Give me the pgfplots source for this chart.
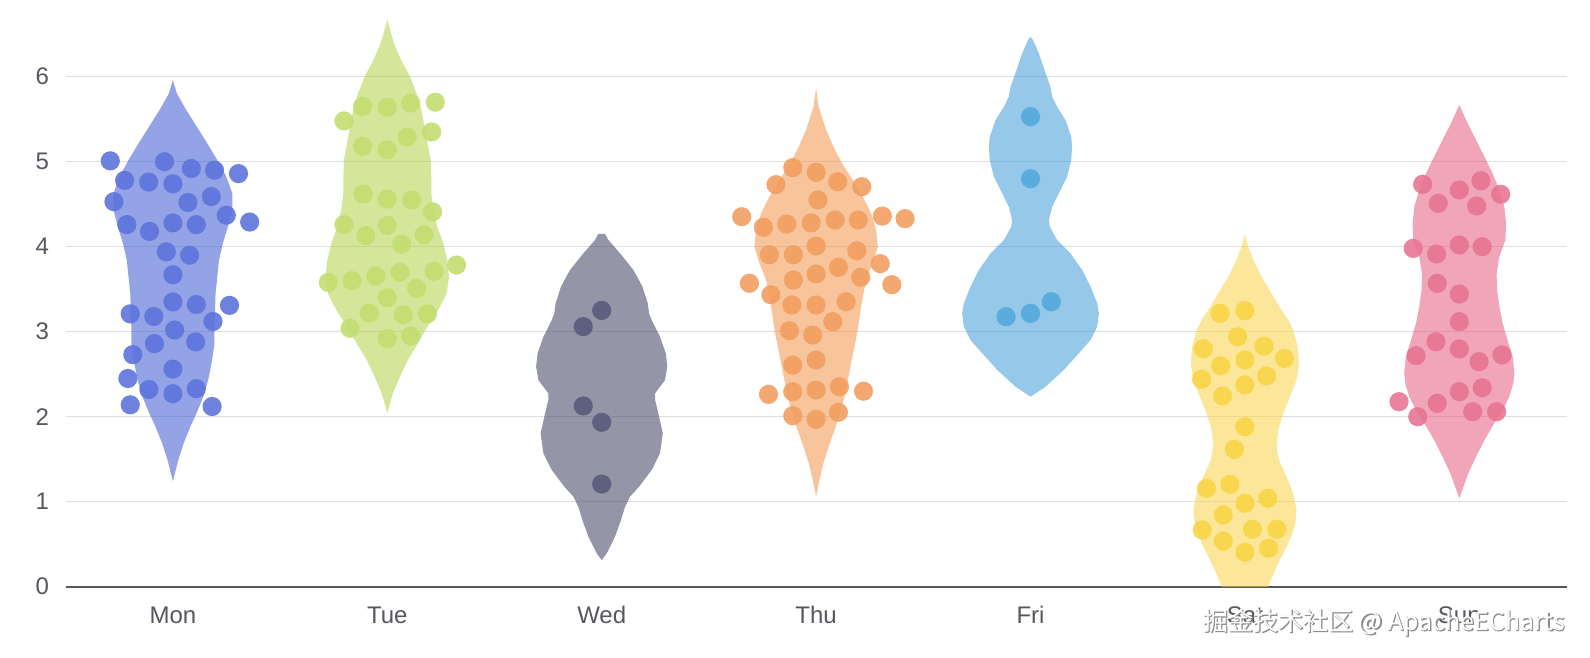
\documentclass[border=0pt]{standalone}
\usepackage{fontspec}
\setmainfont{Liberation Sans}
\newfontfamily\cjk{Noto Sans CJK SC}
\newfontfamily\cjkbold[FakeBold=2.5]{Noto Sans CJK SC}
\usepackage{pgfplots}
\pgfplotsset{compat=1.18}
\definecolor{vmon}{HTML}{3B58D2}
\definecolor{vtue}{HTML}{B3D247}
\definecolor{vwed}{HTML}{3D4061}
\definecolor{vthu}{HTML}{F1944B}
\definecolor{vfri}{HTML}{409BD9}
\definecolor{vsat}{HTML}{F8D247}
\definecolor{vsun}{HTML}{E45B7E}
\definecolor{pmon}{HTML}{5D74DC}
\definecolor{ptue}{HTML}{C2DE70}
\definecolor{pwed}{HTML}{595B7C}
\definecolor{pthu}{HTML}{F19F60}
\definecolor{pfri}{HTML}{53A9DA}
\definecolor{psat}{HTML}{F8D648}
\definecolor{psun}{HTML}{E87592}
\definecolor{gridgray}{HTML}{DEDEE2}
\definecolor{axisgray}{HTML}{55575E}
\definecolor{labelgray}{HTML}{55575E}
\pgfplotsset{
  violin/.style={draw=none, fill=#1, fill opacity=0.55},
  dots/.style={only marks, mark=*, mark size=4.8bp, color=#1, mark options={draw opacity=0, fill=#1, fill opacity=0.9}},
}
\begin{document}
\begin{tikzpicture}
\begin{axis}[
  scale only axis, width=750.4bp, height=293.25bp,
  xmin=-0.5, xmax=6.5, ymin=0, ymax=6.9,
  axis x line=bottom, axis y line=left,
  x axis line style={draw=axisgray, line width=1.1bp, -},
  y axis line style={draw=none},
  major tick length=0pt,
  xtick={0,1,2,3,4,5,6},
  xticklabels={Mon,Tue,Wed,Thu,Fri,Sat,Sun},
  ytick={0,1,2,3,4,5,6},
  ymajorgrids, grid style={draw=gridgray, line width=0.6bp},
  tick label style={font=\fontsize{12bp}{14bp}\selectfont, text=labelgray},
  xticklabel style={anchor=base, inner sep=0pt, yshift=-18.3bp},
  yticklabel style={anchor=east, inner sep=0pt, xshift=-8.2bp},
  /pgf/number format/assume math mode=true,
]
% violins
\addplot[violin=vmon] coordinates {(0,5.96) (0.019,5.80) (0.062,5.61) (0.112,5.41) (0.160,5.216) (0.207,5.02) (0.249,4.824) (0.277,4.628) (0.277,4.43) (0.257,4.236) (0.233,4.04) (0.215,3.84) (0.199,3.45) (0.194,3.06) (0.194,2.86) (0.183,2.67) (0.168,2.47) (0.148,2.275) (0.117,2.08) (0.081,1.88) (0.050,1.686) (0.025,1.49) (0,1.24) (-0.025,1.49) (-0.050,1.686) (-0.081,1.88) (-0.117,2.08) (-0.148,2.275) (-0.168,2.47) (-0.183,2.67) (-0.194,2.86) (-0.194,3.06) (-0.199,3.45) (-0.215,3.84) (-0.233,4.04) (-0.257,4.236) (-0.277,4.43) (-0.277,4.628) (-0.249,4.824) (-0.207,5.02) (-0.160,5.216) (-0.112,5.41) (-0.062,5.61) (-0.019,5.80)} -- cycle;
\addplot[violin=vtue] coordinates {(1,6.67) (1.031,6.39) (1.065,6.196) (1.106,6.0) (1.137,5.80) (1.159,5.61) (1.174,5.41) (1.188,5.216) (1.202,5.02) (1.205,4.824) (1.205,4.63) (1.215,4.43) (1.233,4.235) (1.261,4.04) (1.280,3.84) (1.288,3.647) (1.277,3.45) (1.238,3.255) (1.187,3.06) (1.143,2.863) (1.096,2.667) (1.059,2.47) (1.026,2.275) (1,2.04) (0.974,2.275) (0.941,2.47) (0.904,2.667) (0.857,2.863) (0.813,3.06) (0.762,3.255) (0.723,3.45) (0.712,3.647) (0.720,3.84) (0.739,4.04) (0.767,4.235) (0.785,4.43) (0.795,4.63) (0.795,4.824) (0.798,5.02) (0.812,5.216) (0.826,5.41) (0.841,5.61) (0.863,5.80) (0.894,6.0) (0.935,6.196) (0.969,6.39)} -- cycle;
\addplot[violin=vwed] coordinates {(2.016,4.15) (2.031,4.08) (2.086,3.92) (2.148,3.726) (2.190,3.53) (2.215,3.333) (2.221,3.216) (2.233,3.137) (2.272,2.94) (2.299,2.745) (2.306,2.59) (2.295,2.43) (2.249,2.275) (2.249,2.196) (2.264,2.04) (2.285,1.804) (2.272,1.569) (2.233,1.373) (2.174,1.176) (2.132,1.059) (2.109,0.94) (2.090,0.784) (2.062,0.588) (2.023,0.39) (2,0.314) (1.977,0.39) (1.938,0.588) (1.910,0.784) (1.891,0.94) (1.868,1.059) (1.826,1.176) (1.767,1.373) (1.728,1.569) (1.715,1.804) (1.736,2.04) (1.751,2.196) (1.751,2.275) (1.705,2.43) (1.694,2.59) (1.701,2.745) (1.728,2.94) (1.767,3.137) (1.779,3.216) (1.785,3.333) (1.810,3.53) (1.852,3.726) (1.914,3.92) (1.969,4.08) (1.984,4.15)} -- cycle;
\addplot[violin=vthu] coordinates {(3,5.863) (3.012,5.647) (3.047,5.373) (3.081,5.177) (3.121,4.98) (3.171,4.785) (3.218,4.588) (3.257,4.392) (3.280,4.196) (3.288,4.0) (3.264,3.804) (3.233,3.608) (3.218,3.412) (3.205,3.216) (3.194,3.02) (3.179,2.824) (3.163,2.627) (3.148,2.43) (3.132,2.235) (3.112,2.04) (3.086,1.843) (3.059,1.647) (3.034,1.451) (3.016,1.255) (3,1.06) (2.984,1.255) (2.966,1.451) (2.941,1.647) (2.914,1.843) (2.888,2.04) (2.868,2.235) (2.852,2.43) (2.837,2.627) (2.821,2.824) (2.806,3.02) (2.795,3.216) (2.782,3.412) (2.767,3.608) (2.736,3.804) (2.712,4.0) (2.720,4.196) (2.743,4.392) (2.782,4.588) (2.829,4.785) (2.879,4.98) (2.919,5.177) (2.953,5.373) (2.988,5.647)} -- cycle;
\addplot[violin=vfri] coordinates {(4,6.47) (4.012,6.43) (4.039,6.275) (4.065,6.08) (4.093,5.88) (4.101,5.765) (4.124,5.647) (4.163,5.49) (4.190,5.294) (4.194,5.176) (4.190,5.02) (4.171,4.824) (4.132,4.627) (4.101,4.47) (4.086,4.314) (4.090,4.235) (4.124,4.078) (4.187,3.92) (4.241,3.725) (4.280,3.53) (4.311,3.333) (4.319,3.216) (4.311,3.06) (4.280,2.902) (4.225,2.745) (4.155,2.55) (4.070,2.353) (4,2.235) (3.930,2.353) (3.845,2.55) (3.775,2.745) (3.720,2.902) (3.689,3.06) (3.681,3.216) (3.689,3.333) (3.720,3.53) (3.759,3.725) (3.813,3.92) (3.876,4.078) (3.910,4.235) (3.914,4.314) (3.899,4.47) (3.868,4.627) (3.829,4.824) (3.810,5.02) (3.806,5.176) (3.810,5.294) (3.837,5.49) (3.876,5.647) (3.899,5.765) (3.907,5.88) (3.935,6.08) (3.961,6.275) (3.988,6.43)} -- cycle;
\addplot[violin=vsat] coordinates {(5,4.149) (5.016,4.0) (5.039,3.843) (5.078,3.647) (5.124,3.451) (5.171,3.255) (5.202,3.137) (5.225,3.02) (5.246,2.824) (5.252,2.627) (5.241,2.43) (5.210,2.235) (5.179,2.04) (5.155,1.843) (5.148,1.647) (5.159,1.49) (5.194,1.294) (5.225,1.098) (5.241,0.902) (5.233,0.706) (5.202,0.51) (5.163,0.314) (5.127,0.118) (5.109,0) (5.07,-0.15) (5.035,-0.3) (5,-0.45) (4.965,-0.3) (4.93,-0.15) (4.891,0) (4.873,0.118) (4.837,0.314) (4.798,0.51) (4.767,0.706) (4.759,0.902) (4.775,1.098) (4.806,1.294) (4.841,1.49) (4.852,1.647) (4.845,1.843) (4.821,2.04) (4.790,2.235) (4.759,2.43) (4.748,2.627) (4.754,2.824) (4.775,3.02) (4.798,3.137) (4.829,3.255) (4.876,3.451) (4.922,3.647) (4.961,3.843) (4.984,4.0)} -- cycle;
\addplot[violin=vsun] coordinates {(6,5.667) (6.039,5.451) (6.078,5.255) (6.117,5.06) (6.155,4.863) (6.187,4.667) (6.210,4.47) (6.218,4.275) (6.215,4.08) (6.187,3.882) (6.174,3.686) (6.176,3.49) (6.187,3.294) (6.202,3.098) (6.225,2.902) (6.249,2.706) (6.257,2.51) (6.252,2.392) (6.233,2.235) (6.202,2.078) (6.163,1.922) (6.117,1.725) (6.078,1.529) (6.042,1.333) (6,1.04) (5.958,1.333) (5.922,1.529) (5.883,1.725) (5.837,1.922) (5.798,2.078) (5.767,2.235) (5.748,2.392) (5.743,2.51) (5.751,2.706) (5.775,2.902) (5.798,3.098) (5.813,3.294) (5.824,3.49) (5.826,3.686) (5.813,3.882) (5.785,4.08) (5.782,4.275) (5.790,4.47) (5.813,4.667) (5.845,4.863) (5.883,5.06) (5.922,5.255) (5.961,5.451)} -- cycle;
% points
\addplot[dots=pmon] coordinates {(-0.292,5.01) (-0.039,5.00) (0.086,4.92) (0.194,4.90) (0.306,4.86) (-0.225,4.78) (-0.113,4.76) (0,4.74) (-0.275,4.53) (0.070,4.52) (0.179,4.59) (0.249,4.37) (0.358,4.29) (-0.215,4.26) (-0.109,4.18) (0,4.28) (0.109,4.26) (-0.031,3.94) (0.078,3.90) (0,3.67) (0,3.35) (0.109,3.32) (0.264,3.31) (-0.199,3.21) (-0.089,3.18) (0.187,3.12) (0.008,3.02) (-0.086,2.86) (0.106,2.88) (-0.187,2.73) (0,2.56) (-0.210,2.45) (-0.112,2.32) (0,2.27) (0.109,2.33) (-0.199,2.14) (0.183,2.12)};
\addplot[dots=ptue] coordinates {(0.885,5.65) (1,5.64) (1.109,5.69) (1.224,5.70) (0.798,5.48) (0.885,5.18) (1,5.14) (1.093,5.29) (1.207,5.35) (0.888,4.62) (1,4.56) (1.113,4.55) (1.211,4.41) (0.798,4.26) (0.900,4.13) (1,4.25) (1.067,4.03) (1.171,4.14) (0.725,3.58) (0.835,3.60) (0.946,3.655) (1.059,3.70) (1.218,3.71) (1.323,3.785) (1.137,3.51) (1,3.40) (0.916,3.22) (1.075,3.20) (1.187,3.21) (0.826,3.04) (1,2.92) (1.109,2.95)};
\addplot[dots=pwed] coordinates {(2,3.25) (1.914,3.06) (1.914,2.126) (2,1.934) (2,1.208)};
\addplot[dots=pthu] coordinates {(2.891,4.93) (3,4.875) (3.101,4.765) (3.213,4.706) (2.813,4.73) (3.008,4.55) (2.653,4.353) (2.754,4.228) (2.863,4.267) (2.977,4.28) (3.089,4.314) (3.197,4.314) (3.309,4.36) (3.415,4.33) (2.782,3.906) (2.894,3.906) (3,4.008) (3.190,3.953) (3.299,3.80) (3.104,3.757) (3,3.679) (2.894,3.608) (3.208,3.64) (2.689,3.57) (3.353,3.553) (2.789,3.435) (2.887,3.314) (3,3.314) (3.140,3.353) (3.078,3.118) (2.876,3.012) (2.984,2.961) (2.891,2.608) (3,2.667) (2.778,2.263) (2.891,2.294) (3,2.314) (3.109,2.353) (3.221,2.30) (2.891,2.012) (3,1.969) (3.104,2.052)};
\addplot[dots=pfri] coordinates {(4,5.53) (4,4.80) (3.886,3.176) (4,3.216) (4.097,3.353)};
\addplot[dots=psat] coordinates {(4.884,3.216) (5,3.247) (4.966,2.94) (4.806,2.80) (5.089,2.83) (5.184,2.686) (4.887,2.60) (5,2.667) (4.798,2.44) (5.101,2.48) (5,2.373) (4.896,2.244) (5,1.882) (4.951,1.616) (4.821,1.157) (4.930,1.204) (5,0.981) (5.107,1.04) (4.899,0.843) (4.801,0.667) (5.035,0.675) (5.149,0.675) (4.899,0.538) (5,0.405) (5.110,0.452)};
\addplot[dots=psun] coordinates {(5.829,4.734) (6,4.667) (6.101,4.776) (6.193,4.616) (5.902,4.51) (6.081,4.479) (5.785,3.98) (5.894,3.914) (6,4.02) (6.107,4.0) (5.897,3.569) (6,3.443) (6,3.118) (5.891,2.882) (5.798,2.718) (6,2.797) (6.092,2.647) (6.199,2.726) (6,2.294) (6.107,2.341) (5.897,2.158) (5.719,2.177) (5.806,2.0) (6.062,2.059) (6.174,2.059)};
\end{axis}
\node[anchor=west, inner sep=0pt, text=black!45] at ([shift={(568.9bp,-18.2bp)}]current axis.south west) {\fontsize{12.5bp}{14bp}\cjkbold 掘金技术社区 @ ApacheECharts};
\node[anchor=west, inner sep=0pt, text=white] at ([shift={(568.6bp,-17.9bp)}]current axis.south west) {\fontsize{12.5bp}{14bp}\cjk 掘金技术社区 @ ApacheECharts};
\pgfresetboundingbox
\path ([shift={(-32.85bp,-35.65bp)}]current axis.south west) rectangle ([shift={(11.75bp,0.1bp)}]current axis.north east);
\end{tikzpicture}
\end{document}
